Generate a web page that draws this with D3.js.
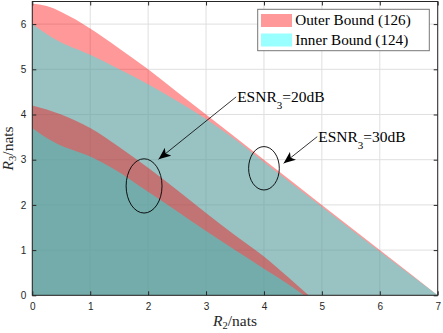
<!DOCTYPE html>
<html>
<head>
<meta charset="utf-8">
<script src="https://cdn.jsdelivr.net/npm/d3@7"></script>
<style>
  body { margin: 0; background: #fff; }
  svg { display: block; }
  .tick text { font-family: "Liberation Sans", Arial, sans-serif; font-size: 10px; fill: #262626; }
  .serif { font-family: "Liberation Serif", "DejaVu Serif", serif; }
</style>
</head>
<body>
<script>
// curves: [R2, R3] in nats
var outer30 = [[0, 6.45], [0.25, 6.4], [0.5, 6.27], [0.75, 6.1], [1, 5.9], [1.5, 5.46], [2, 5.0], [2.5, 4.5], [3, 4.0], [4, 3.0], [5, 2.0], [6, 1.0], [7, 0]];
var inner30 = [[0, 6.0], [0.2, 5.82], [0.4, 5.66], [1, 5.32], [1.5, 5.0], [2, 4.67], [2.5, 4.3], [3, 3.9], [3.5, 3.45], [4, 2.95], [5, 1.96], [6, 0.97], [7, 0]];
var outer20 = [[0, 4.2], [0.5, 4.0], [1, 3.7], [1.5, 3.28], [2, 2.82], [2.5, 2.33], [3, 1.82], [3.5, 1.33], [4, 0.86], [4.4, 0.42], [4.77, 0]];
var inner20 = [[0, 3.7], [0.2, 3.52], [0.42, 3.36], [1, 3.07], [1.4, 2.8], [2, 2.29], [2.5, 1.86], [3, 1.42], [3.5, 1.0], [4, 0.59], [4.4, 0.26], [4.69, 0]];

var xTicks = [0, 1, 2, 3, 4, 5, 6, 7];
var yTicks = [0, 1, 2, 3, 4, 5, 6];
var legendLabels = ["Outer Bound (126)", "Inner Bound (124)"];

// ellipses: centre x, centre y, radius x, radius y (data units)
var ellipses = [[1.93, 2.42, 0.31, 0.6], [4.0, 2.81, 0.265, 0.48]];
// annotations: text, text x, text y, arrow tip x, arrow tip y
var notes = [["20dB", 3.52, 4.39, 2.18, 3.01], ["30dB", 4.92, 3.51, 4.34, 2.92]];

var width = 443, height = 333;
var margin = { left: 32.3, right: 5.3, top: 1.5, bottom: 37.7 };
var innerW = width - margin.left - margin.right;
var innerH = height - margin.top - margin.bottom;

var svg = d3.select("body").append("svg")
  .attr("width", width)
  .attr("height", height);

var x = d3.scaleLinear().domain([0, 7]).range([0, innerW]);
var y = d3.scaleLinear().domain([0, 6.5]).range([innerH, 0]);

var g = svg.append("g")
  .attr("transform", "translate(" + margin.left + "," + margin.top + ")");

// grid
g.append("g").selectAll("line").data(xTicks).enter().append("line")
  .attr("x1", d => x(d)).attr("x2", d => x(d))
  .attr("y1", 0).attr("y2", innerH)
  .attr("stroke", "#dfdfdf").attr("stroke-width", 1);
g.append("g").selectAll("line").data(yTicks).enter().append("line")
  .attr("x1", 0).attr("x2", innerW)
  .attr("y1", d => y(d)).attr("y2", d => y(d))
  .attr("stroke", "#dfdfdf").attr("stroke-width", 1);

var area = d3.area()
  .x(d => x(d[0]))
  .y0(y(0))
  .y1(d => y(d[1]))
  .curve(d3.curveMonotoneX);

var regions = [[outer30, "#ff0000"], [inner30, "#00ffff"], [outer20, "#ff0000"], [inner20, "#00ffff"]];
regions.forEach(function (r) {
  g.append("path")
    .attr("d", area(r[0]))
    .attr("fill", r[1])
    .attr("fill-opacity", 0.4);
});

// axes with inward ticks, box
var tickLen = 4;
g.append("g")
  .attr("transform", "translate(0," + innerH + ")")
  .call(d3.axisBottom(x).tickValues(xTicks).tickSize(-tickLen).tickPadding(8).tickFormat(d3.format("d")))
  .call(a => a.select(".domain").remove());
g.append("g")
  .call(d3.axisTop(x).tickValues(xTicks).tickSize(-tickLen).tickFormat(""))
  .call(a => a.select(".domain").remove());
g.append("g")
  .call(d3.axisLeft(y).tickValues(yTicks).tickSize(-tickLen).tickPadding(6).tickFormat(d3.format("d")))
  .call(a => a.select(".domain").remove());
g.append("g")
  .attr("transform", "translate(" + innerW + ",0)")
  .call(d3.axisRight(y).tickValues(yTicks).tickSize(-tickLen).tickFormat(""))
  .call(a => a.select(".domain").remove());
g.selectAll(".tick line").attr("stroke", "#262626");
g.append("rect")
  .attr("width", innerW).attr("height", innerH)
  .attr("fill", "none").attr("stroke", "#262626").attr("stroke-width", 1);

// axis labels
var xl = svg.append("text").attr("class", "serif")
  .attr("x", margin.left + innerW / 2).attr("y", 326)
  .attr("text-anchor", "middle").attr("font-size", 15.5).attr("fill", "#262626");
xl.append("tspan").attr("font-style", "italic").text("R");
xl.append("tspan").attr("font-size", 10.5).attr("dy", 3).text("2");
xl.append("tspan").attr("dy", -3).text("/nats");

var yl = svg.append("text").attr("class", "serif")
  .attr("transform", "translate(13," + (margin.top + innerH / 2) + ") rotate(-90)")
  .attr("text-anchor", "middle").attr("font-size", 15.5).attr("fill", "#262626");
yl.append("tspan").attr("font-style", "italic").text("R");
yl.append("tspan").attr("font-size", 10.5).attr("dy", 3).text("3");
yl.append("tspan").attr("dy", -3).text("/nats");

// ellipses
g.selectAll(".ell").data(ellipses).enter().append("ellipse")
  .attr("cx", d => x(d[0])).attr("cy", d => y(d[1]))
  .attr("rx", d => x(d[2]) - x(0)).attr("ry", d => y(0) - y(d[3]))
  .attr("fill", "none").attr("stroke", "#000").attr("stroke-width", 0.9);

// arrows
svg.append("defs").append("marker")
  .attr("id", "head").attr("viewBox", "0 0 12 10")
  .attr("refX", 12).attr("refY", 5)
  .attr("markerWidth", 13).attr("markerHeight", 10)
  .attr("markerUnits", "userSpaceOnUse")
  .attr("orient", "auto")
  .append("path").attr("d", "M0,0 L12,5 L0,10 L3,5 Z").attr("fill", "#000");

notes.forEach(function (n) {
  g.append("line")
    .attr("x1", x(n[1])).attr("y1", y(n[2]))
    .attr("x2", x(n[3])).attr("y2", y(n[4]))
    .attr("stroke", "#000").attr("stroke-width", 0.8)
    .attr("marker-end", "url(#head)");
  var t = g.append("text").attr("class", "serif")
    .attr("x", x(n[1]) + 1).attr("y", y(n[2]) + 5)
    .attr("font-size", 15.5).attr("fill", "#000");
  t.append("tspan").text("ESNR");
  t.append("tspan").attr("font-size", 11).attr("dy", 7).text("3");
  t.append("tspan").attr("dy", -7).text("=" + n[0]);
});

// legend
var lg = svg.append("g").attr("transform", "translate(257.7,9.3)");
lg.append("rect").attr("width", 171.6).attr("height", 41.4)
  .attr("fill", "#fff").attr("stroke", "#777").attr("stroke-width", 1);
var swatch = ["#ff9999", "#99ffff"];
legendLabels.forEach(function (l, i) {
  lg.append("rect").attr("x", 3.3).attr("y", 4.7 + i * 19.5)
    .attr("width", 31).attr("height", 13).attr("fill", swatch[i]);
  lg.append("text").attr("class", "serif")
    .attr("x", 37.5).attr("y", 16 + i * 19.5)
    .attr("font-size", 15.2).attr("fill", "#000").text(l);
});
</script>
</body>
</html>
